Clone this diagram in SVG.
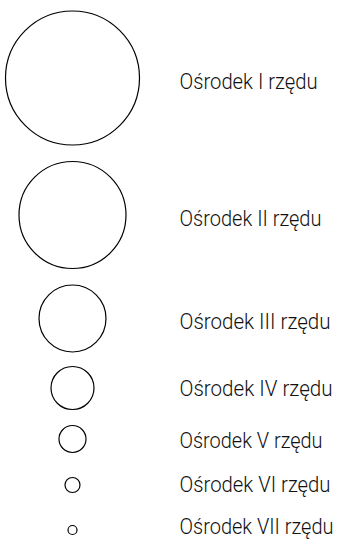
<svg xmlns="http://www.w3.org/2000/svg" width="342" height="543" viewBox="0 0 342 543">
<style>
.c{fill:none;stroke:#000;stroke-width:1.2}
.t{font-family:Roboto,"DejaVu Sans Condensed","Liberation Sans",sans-serif;font-weight:300;font-size:22px;fill:#111}
</style>
<rect width="342" height="543" fill="#fff"/>
<g id="n1"><circle class="c" cx="72.5" cy="78" r="67"/><text class="t" x="179.5" y="89" textLength="138" lengthAdjust="spacingAndGlyphs">Ośrodek I rzędu</text></g>
<g id="n2"><circle class="c" cx="72.5" cy="215" r="53.5"/><text class="t" x="179.5" y="226" textLength="142" lengthAdjust="spacingAndGlyphs">Ośrodek II rzędu</text></g>
<g id="n3"><circle class="c" cx="72.5" cy="318.5" r="33.5"/><text class="t" x="179.5" y="329" textLength="151" lengthAdjust="spacingAndGlyphs">Ośrodek III rzędu</text></g>
<g id="n4"><circle class="c" cx="72.5" cy="388" r="21.5"/><text class="t" x="179.5" y="396" textLength="153" lengthAdjust="spacingAndGlyphs">Ośrodek IV rzędu</text></g>
<g id="n5"><circle class="c" cx="72.5" cy="439" r="13.5"/><text class="t" x="179.5" y="448" textLength="143" lengthAdjust="spacingAndGlyphs">Ośrodek V rzędu</text></g>
<g id="n6"><circle class="c" cx="72.5" cy="485" r="7.5"/><text class="t" x="179.5" y="492" textLength="151" lengthAdjust="spacingAndGlyphs">Ośrodek VI rzędu</text></g>
<g id="n7"><circle class="c" cx="72.5" cy="530" r="4.5"/><text class="t" x="179.5" y="533.5" textLength="154" lengthAdjust="spacingAndGlyphs">Ośrodek VII rzędu</text></g>
<g id="connectors"></g>
</svg>
